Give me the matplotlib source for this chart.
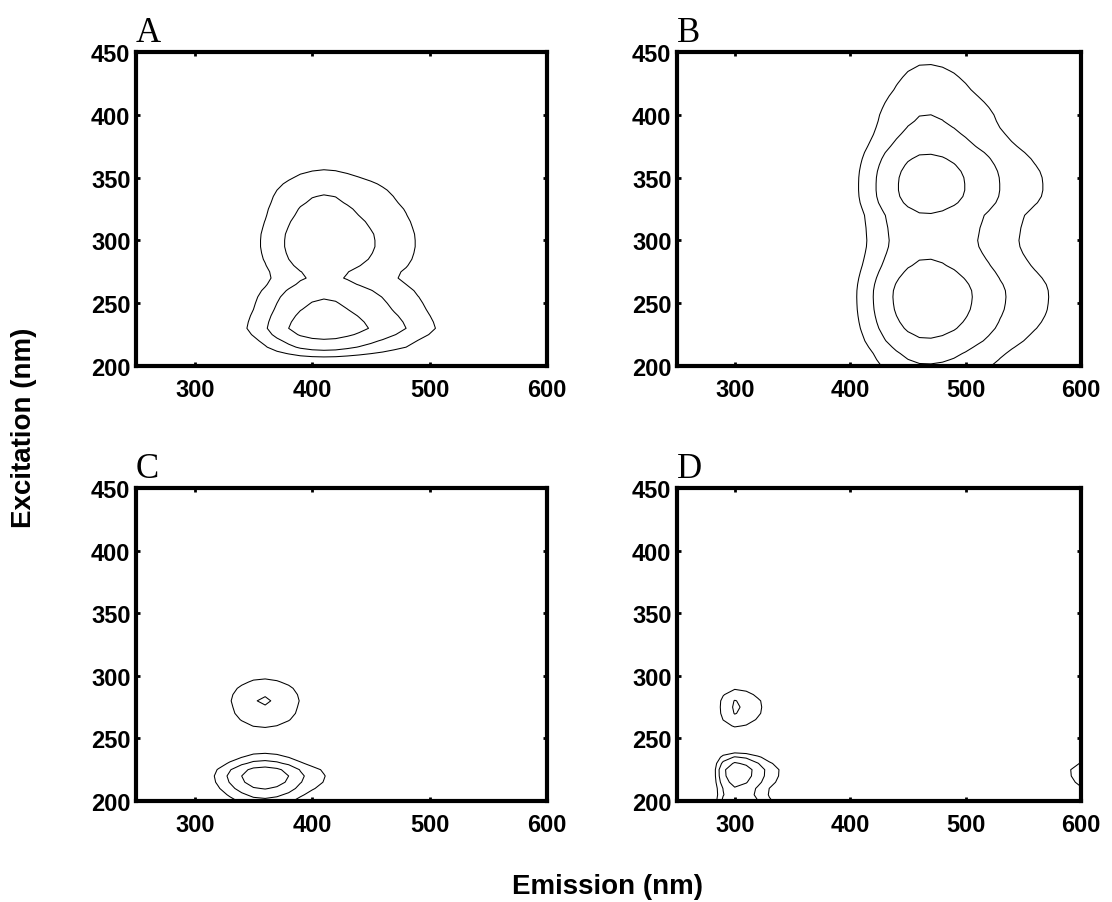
import numpy as np
import matplotlib
matplotlib.use("Agg")
import matplotlib.pyplot as plt
from matplotlib.font_manager import FontProperties

# Wavelength grids (nm)
em_nm = np.arange(250, 601, 10)   # emission, 36 points
ex_nm = np.arange(200, 451, 5)    # excitation, 51 points

# Emission loadings (one value per em_nm)
emA = [0, 0, 0, 0, 0, 0.01, 0.02, 0.04, 0.09, 0.16, 0.25, 0.37, 0.54, 0.70, 0.86, 0.96,
       1.0, 0.97, 0.88, 0.78, 0.68, 0.58, 0.48, 0.40, 0.30, 0.23, 0.17, 0.12, 0.08, 0.05,
       0.03, 0.02, 0.01, 0, 0, 0]
emB = [0, 0, 0, 0, 0, 0, 0, 0, 0, 0, 0, 0, 0, 0.0, 0.03, 0.12,
       0.26, 0.40, 0.58, 0.75, 0.90, 0.99, 1.0, 0.96, 0.88, 0.77, 0.65, 0.55, 0.44, 0.36,
       0.30, 0.25, 0.21, 0.16, 0.10, 0.05]
emC = [0, 0, 0, 0, 0, 0.02, 0.10, 0.25, 0.45, 0.70, 0.93, 1.0, 0.90, 0.70, 0.45, 0.30,
       0.21, 0.12, 0.05, 0.01, 0, 0, 0, 0, 0, 0, 0, 0, 0, 0,
       0, 0, 0, 0, 0, 0]
emD = [0, 0, 0, 0, 0.62, 1.0, 0.85, 0.55, 0.30, 0.18, 0.08, 0.03, 0, 0, 0, 0,
       0, 0, 0, 0, 0, 0, 0, 0, 0, 0, 0, 0, 0, 0,
       0, 0, 0, 0.05, 0.19, 0.28]

# Excitation loadings (one value per ex_nm)
exA = [0.0, 0.12, 0.30, 0.50, 0.65, 0.85, 1.0, 0.95, 0.88, 0.80, 0.74, 0.68, 0.60, 0.50,
       0.44, 0.46, 0.52, 0.57, 0.60, 0.62, 0.62, 0.61, 0.58, 0.55, 0.51, 0.48, 0.44, 0.41,
       0.37, 0.32, 0.26, 0.21, 0.17, 0.13, 0.10, 0.08, 0.06, 0.05, 0.04, 0.03, 0.02, 0.01,
       0.01, 0.01, 0.01, 0.01, 0.01, 0.01, 0.01, 0.01, 0.0]
exB = [0.38, 0.44, 0.50, 0.58, 0.67, 0.74, 0.82, 0.88, 0.93, 0.97, 0.99, 1.0, 0.99, 0.95,
       0.89, 0.82, 0.75, 0.70, 0.66, 0.63, 0.62, 0.63, 0.64, 0.66, 0.68, 0.75, 0.83, 0.88,
       0.90, 0.90, 0.89, 0.86, 0.81, 0.75, 0.68, 0.60, 0.54, 0.49, 0.45, 0.42, 0.40, 0.37,
       0.34, 0.31, 0.28, 0.26, 0.24, 0.22, 0.20, 0.18, 0.16]
exC = [0.33, 0.50, 0.72, 0.92, 1.0, 0.85, 0.50, 0.28, 0.15, 0.10, 0.10, 0.14, 0.22, 0.30,
       0.36, 0.39, 0.42, 0.39, 0.33, 0.24, 0.16, 0.10, 0.05, 0.02, 0, 0, 0, 0,
       0, 0, 0, 0, 0, 0, 0, 0, 0, 0, 0, 0, 0, 0,
       0, 0, 0, 0, 0, 0, 0, 0, 0]
exD = [0.74, 0.62, 0.66, 0.85, 0.98, 1.0, 0.75, 0.42, 0.10, 0.04, 0.04, 0.10, 0.22, 0.33,
       0.41, 0.43, 0.41, 0.30, 0.18, 0.09, 0.04, 0.01, 0, 0, 0, 0, 0, 0,
       0, 0, 0, 0, 0, 0, 0, 0, 0, 0, 0, 0, 0, 0,
       0, 0, 0, 0, 0, 0, 0, 0, 0]

panel_labels = ["A", "B", "C", "D"]
contour_levels = [0.2, 0.4, 0.7]
x_ticks = [300, 400, 500, 600]
y_ticks = [200, 250, 300, 350, 400, 450]

W, H = 1112, 903
fig = plt.figure(figsize=(W / 100, H / 100), dpi=100)

# axes boxes in pixels: left, top, right, bottom
boxes = [(136, 53, 547, 367), (677, 53, 1081, 367),
         (136, 489, 547, 802), (677, 489, 1081, 802)]
loads = [(emA, exA), (emB, exB), (emC, exC), (emD, exD)]
tick_fp = FontProperties(family="Liberation Sans", weight="bold", size=17)

for (l, t, r, b), (em, ex), lab in zip(boxes, loads, panel_labels):
    ax = fig.add_axes([l / W, 1 - b / H, (r - l) / W, (b - t) / H])
    Z = np.outer(np.asarray(ex), np.asarray(em))
    ax.contour(em_nm, ex_nm, Z, levels=contour_levels, colors="black", linewidths=0.75)
    ax.set_xlim(250, 600)
    ax.set_ylim(200, 450)
    ax.set_xticks(x_ticks)
    ax.set_yticks(y_ticks)
    ax.tick_params(direction="in", length=3, width=2, top=True, right=True)
    ax.tick_params(axis="y", pad=4)
    ax.tick_params(axis="x", pad=9)
    for tl in ax.get_xticklabels() + ax.get_yticklabels():
        tl.set_fontproperties(tick_fp)
    for sp in ax.spines.values():
        sp.set_linewidth(3)
    fig.text(l / W, 1 - (t - 11) / H, lab, family="Liberation Serif", size=25,
             ha="left", va="baseline")

fig.text(24 / W, 1 - 428 / H, "Excitation (nm)", rotation=90, ha="center", va="center",
         family="Liberation Sans", weight="bold", size=20)
fig.text(607 / W, 1 - 887 / H, "Emission (nm)", ha="center", va="center",
         family="Liberation Sans", weight="bold", size=20)

fig.savefig("out.png", dpi=100)
